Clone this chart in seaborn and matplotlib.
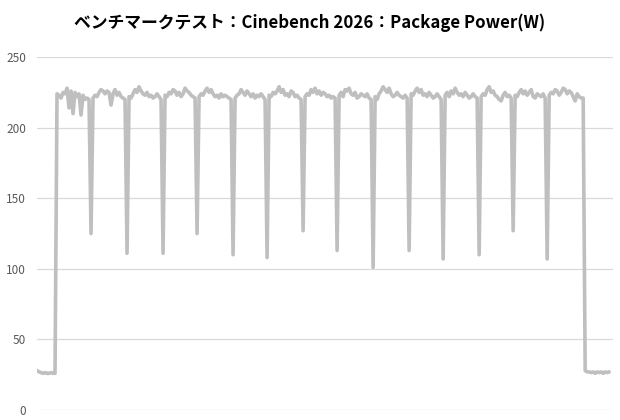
import pandas as pd
import seaborn as sns
import matplotlib.pyplot as plt

# Package power samples (W)
idle_start = [28, 27, 26.5, 26, 26.5, 26, 26, 26.5, 26, 26]

load_segments = [
    [224, 223, 221, 225, 224, 228, 214, 226, 210, 225, 222, 224, 209, 223, 220, 221, 220],
    [221, 223, 222, 225, 227, 226, 224, 226, 225, 216, 224, 227, 223, 225, 222, 221, 220],
    [222, 221, 224, 227, 225, 229, 226, 224, 223, 225, 222, 223, 221, 222, 224, 222, 220],
    [223, 222, 225, 224, 227, 226, 223, 225, 222, 224, 228, 226, 225, 223, 222, 221],
    [222, 224, 223, 226, 228, 225, 227, 224, 222, 223, 221, 224, 222, 223, 222, 221, 220],
    [221, 223, 224, 227, 225, 223, 226, 224, 222, 224, 221, 223, 222, 224, 222, 220],
    [223, 222, 225, 224, 226, 229, 225, 227, 223, 224, 222, 226, 225, 222, 223, 221, 220],
    [222, 224, 223, 227, 225, 228, 224, 226, 223, 225, 224, 222, 223, 221, 222, 221],
    [223, 225, 222, 227, 226, 228, 224, 223, 225, 221, 222, 224, 223, 222, 224, 221, 220],
    [222, 220, 224, 226, 229, 227, 225, 228, 224, 222, 223, 225, 223, 222, 221, 223, 221],
    [224, 223, 226, 228, 225, 227, 223, 224, 222, 225, 223, 221, 222, 224, 222, 220],
    [223, 225, 222, 226, 224, 228, 225, 223, 224, 222, 225, 223, 221, 222, 224, 222, 221],
    [222, 224, 223, 227, 229, 225, 226, 223, 222, 220, 219, 223, 225, 222, 223, 221],
    [223, 222, 225, 227, 224, 226, 223, 225, 227, 222, 221, 224, 223, 222, 224, 221],
    [223, 225, 224, 227, 226, 223, 225, 228, 227, 224, 226, 225, 222, 219, 224, 222, 221, 221],
]

# short drops between benchmark runs
dip_values = [125, 111, 111, 125, 110, 108, 127, 113, 101, 113, 107, 110, 127, 107]

idle_end = [28, 27, 27, 26.5, 27, 26, 27, 26.5, 27, 26, 27, 26.5, 27]

y_ticks = [0, 50, 100, 150, 200, 250]
title = "ベンチマークテスト：Cinebench 2026：Package Power(W)"

# assemble the series
power = list(idle_start)
for i, seg in enumerate(load_segments):
    power += seg
    if i < len(dip_values):
        power.append(dip_values[i])
power += idle_end
df = pd.DataFrame({"sample": range(len(power)), "power": power})

sns.set_style("whitegrid")
plt.rcParams["font.family"] = ["Noto Sans CJK JP", "DejaVu Sans"]

fig = plt.figure(figsize=(6.2, 4.2), dpi=100)
ax = fig.add_axes([0.0597, 0.0238, 0.9293, 0.8402])
sns.lineplot(data=df, x="sample", y="power", color="#BFBFBF", linewidth=2.6, ax=ax)

ax.set_xlim(0, len(power) + 1)
ax.set_ylim(0, 250)
ax.set_yticks(y_ticks)
ax.set_yticklabels([str(t) for t in y_ticks], fontsize=8.5, color="#595959")
ax.set_xticks([])
ax.set_xlabel("")
ax.set_ylabel("")
ax.tick_params(axis="y", length=0, pad=8)
ax.grid(axis="y", color="#D9D9D9", linewidth=0.9)
ax.grid(axis="x", visible=False)
for s in ax.spines.values():
    s.set_visible(False)

fig.text(0.5, 0.945, title, ha="center", va="center", fontsize=12.1,
         fontweight="bold", color="#000000")

fig.savefig("out.png", dpi=100)
